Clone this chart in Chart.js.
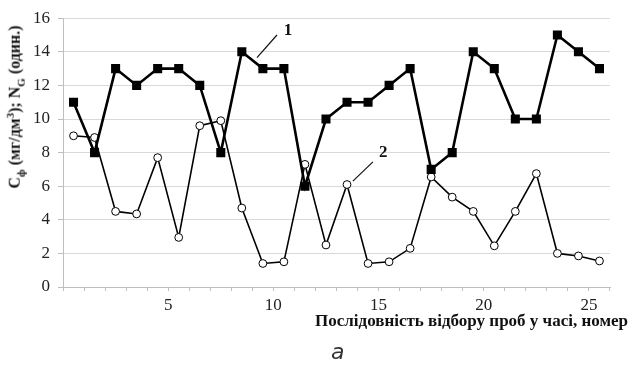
<!DOCTYPE html>
<html>
<head>
<meta charset="utf-8">
<script src="https://cdn.jsdelivr.net/npm/chart.js@4"></script>
<style>
    body { margin: 0; background: #fff; }
    #wrap { position: relative; width: 635px; height: 370px; }
    #yTitle {
        position: absolute; left: 15px; top: 107px;
        transform: translate(-50%, -50%) rotate(-90deg);
        white-space: nowrap;
        font: bold 16px "Liberation Serif", serif; color: #111;
    }
    #yTitle sub, #yTitle sup { font-size: 11px; }
    #xTitle {
        position: absolute; right: 7px; top: 311px;
        white-space: nowrap;
        font: bold 17px "Liberation Serif", serif; color: #111;
    }
    #caption {
        position: absolute; left: 331px; top: 339px;
        font: italic 22px "DejaVu Sans", sans-serif; color: #333;
    }
</style>
</head>
<body>
<div id="wrap">
    <canvas id="chart" width="635" height="370"></canvas>
    <div id="yTitle">C<sub>ф</sub> (мг/дм<sup>3</sup>); N<sub>G</sub> (один.)</div>
    <div id="xTitle">Послідовність відбору проб у часі, номер</div>
    <div id="caption">а</div>
</div>
<script>

// sample numbers along the time axis
const samples = ["1", "2", "3", "4", "5", "6", "7", "8", "9", "10", "11", "12", "13",
    "14", "15", "16", "17", "18", "19", "20", "21", "22", "23", "24", "25", "26"];

// curve 1 - N_G (units)
const seriesN = [11, 8, 13, 12, 13, 13, 12, 8, 14, 13, 13, 6, 10,
    11, 11, 12, 13, 7, 8, 14, 13, 10, 10, 15, 14, 13];

// curve 2 - C_ф (mg/dm3)
const seriesC = [9.0, 8.9, 4.5, 4.35, 7.7, 2.95, 9.6, 9.9, 4.7, 1.4, 1.5, 7.3, 2.5,
    6.1, 1.4, 1.5, 2.3, 6.55, 5.35, 4.5, 2.45, 4.5, 6.75, 2.0, 1.85, 1.55];

const shownTicks = ["5", "10", "15", "20", "25"];
const yTicks = [0, 2, 4, 6, 8, 10, 12, 14, 16];

// callouts "1" and "2": [x index, value] for leader start, leader end, label
const callouts = [
    { text: "1", from: [8.72, 13.65], to: [9.67, 15.0], at: [10.2, 15.25] },
    { text: "2", from: [13.28, 6.3], to: [14.23, 7.45], at: [14.72, 8.0] }
];

const calloutPlugin = {
    id: "callouts",
    afterDatasetsDraw(chart) {
        const { ctx, scales } = chart;
        ctx.save();
        ctx.strokeStyle = "#111";
        ctx.lineWidth = 1.2;
        ctx.fillStyle = "#111";
        ctx.font = "bold 17px 'Liberation Serif', serif";
        ctx.textAlign = "center";
        ctx.textBaseline = "middle";
        callouts.forEach((c) => {
            ctx.beginPath();
            ctx.moveTo(scales.x.getPixelForValue(c.from[0]), scales.y.getPixelForValue(c.from[1]));
            ctx.lineTo(scales.x.getPixelForValue(c.to[0]), scales.y.getPixelForValue(c.to[1]));
            ctx.stroke();
            ctx.fillText(c.text, scales.x.getPixelForValue(c.at[0]), scales.y.getPixelForValue(c.at[1]));
        });
        ctx.restore();
    }
};

new Chart(document.getElementById("chart"), {
    type: "line",
    data: {
        labels: samples,
        datasets: [
            {
                label: "1",
                data: seriesN,
                borderColor: "#000",
                borderWidth: 2.6,
                pointStyle: "rect",
                pointRadius: 6.4,
                pointBackgroundColor: "#000",
                pointBorderColor: "#000",
                pointBorderWidth: 0,
                tension: 0
            },
            {
                label: "2",
                data: seriesC,
                borderColor: "#000",
                borderWidth: 1.6,
                pointStyle: "circle",
                pointRadius: 3.9,
                pointBackgroundColor: "#fff",
                pointBorderColor: "#000",
                pointBorderWidth: 1,
                tension: 0
            }
        ]
    },
    options: {
        responsive: false,
        animation: false,
        layout: { padding: { left: 0, right: 25, top: 15, bottom: 0 } },
        plugins: {
            legend: { display: false },
            tooltip: { enabled: false }
        },
        scales: {
            x: {
                type: "category",
                offset: true,
                grid: {
                    offset: true,
                    drawOnChartArea: false,
                    drawTicks: true,
                    tickLength: 4,
                    color: "#bfbfbf"
                },
                border: { color: "#bfbfbf" },
                ticks: {
                    autoSkip: false,
                    maxRotation: 0,
                    labelOffset: 10.5,
                    padding: 4,
                    color: "#222",
                    font: { family: "'Liberation Serif', serif", size: 17 },
                    callback: function (value) {
                        const label = this.getLabelForValue(value);
                        return shownTicks.includes(label) ? label : "";
                    }
                },
                afterFit: (scale) => { scale.height = 83; }
            },
            y: {
                min: 0,
                max: 16,
                afterBuildTicks: (scale) => { scale.ticks = yTicks.map((v) => ({ value: v })); },
                grid: {
                    color: "#d9d9d9",
                    tickLength: 5,
                    tickColor: "#bfbfbf"
                },
                border: { color: "#bfbfbf" },
                ticks: {
                    padding: 8,
                    color: "#222",
                    font: { family: "'Liberation Serif', serif", size: 17 }
                },
                afterFit: (scale) => { scale.width = 63; }
            }
        }
    },
    plugins: [calloutPlugin]
});

</script>
</body>
</html>
